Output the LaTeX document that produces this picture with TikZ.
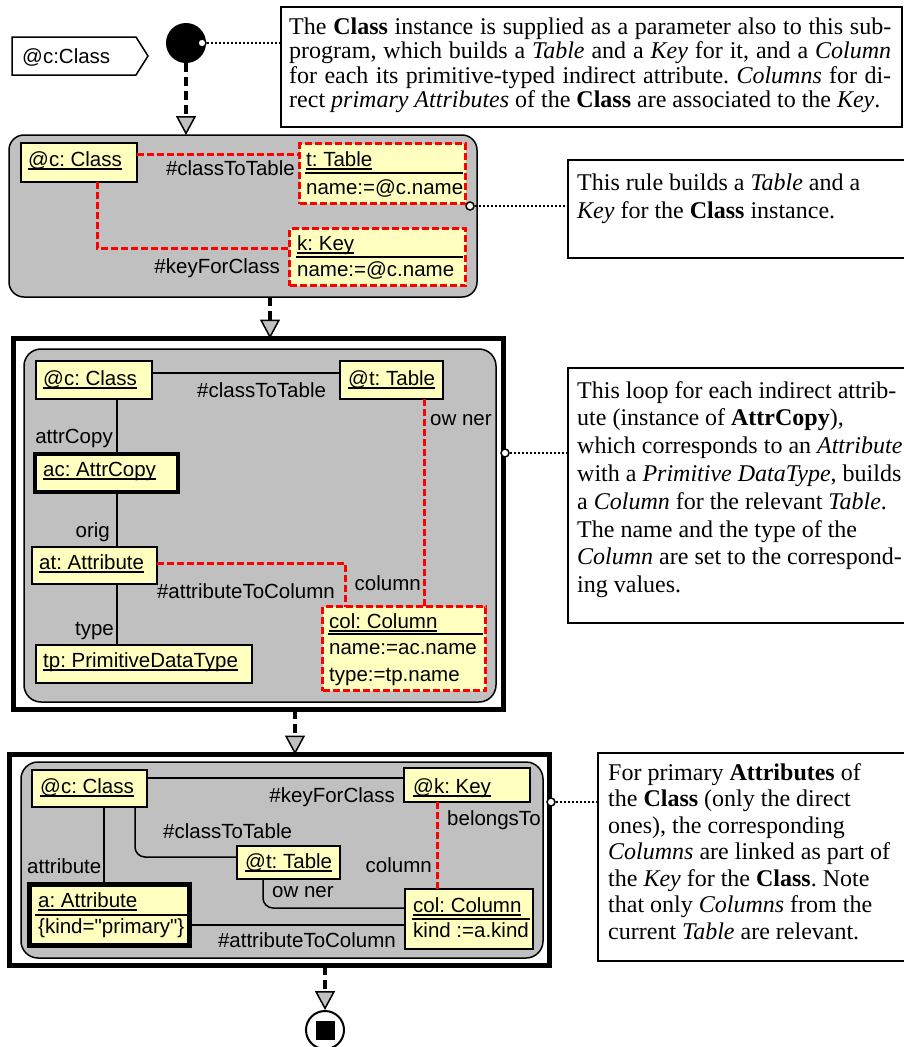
\documentclass[tikz,border=0pt]{standalone}
\usepackage{fontspec}
\setmainfont{Liberation Serif}
\setsansfont{Liberation Sans}
\usetikzlibrary{arrows.meta}
\definecolor{objfill}{RGB}{255,255,192}
\definecolor{rulefill}{RGB}{192,192,192}
\definecolor{newred}{RGB}{255,0,0}
\frenchspacing
% underlined object name
\newcommand\uln[1]{\leavevmode\setbox0=\hbox{#1}\rlap{\rule[-3.5pt]{\wd0}{1.6pt}}\box0}
% one justified line of a note
\newcommand\jline[1]{\makebox[602pt][s]{#1}}

\begin{document}
\begin{tikzpicture}[x=1pt,y=-1pt,
  lbl/.style={font=\sffamily\fontsize{20.5}{24}\selectfont, inner sep=0pt},
  lw/.style={lbl, anchor=base west},
  le/.style={lbl, anchor=base east},
  nt/.style={font=\fontsize{24}{28}\selectfont, inner sep=0pt, anchor=base west},
  obj/.style={draw, line width=1.5pt, fill=objfill, inner sep=0pt, outer sep=0pt},
  newobj/.style={draw=newred, line width=3pt, dash pattern=on 7pt off 3pt, fill=objfill, inner sep=0pt, outer sep=0pt},
  heavyobj/.style={draw, fill=objfill, inner sep=0pt, outer sep=0pt},
  rulebox/.style={draw, line width=1.5pt, fill=rulefill, rounded corners=15pt, inner sep=0pt, outer sep=0pt},
  loopframe/.style={draw, line width=4.5pt, fill=white, inner sep=0pt, outer sep=0pt},
  notebox/.style={draw, line width=1.5pt, fill=white, inner sep=0pt, outer sep=0pt},
  link/.style={line width=1.5pt},
  newlink/.style={draw=newred, line width=3pt, dash pattern=on 7pt off 3pt},
  flow/.style={line width=4pt, dash pattern=on 9pt off 5pt, -{Triangle[length=19pt,width=20pt,line width=1.5pt,fill=rulefill]}},
  anchorline/.style={line width=2pt, dash pattern=on 2pt off 2pt},
  pin/.style={circle, draw, line width=1.5pt, fill=white, minimum size=8pt, inner sep=0pt},
  sep/.style={line width=1.5pt},
]
\useasboundingbox (0,0) rectangle (904,1047);

% ---------- start: parameter and initial node ----------
\draw[line width=1.5pt] (12,37) -- (136,37) -- (148,56) -- (136,75) -- (12,75) -- cycle;
\node[lw] (param) at (22,63) {@c:Class};
\node[circle, fill=black, minimum size=40pt, inner sep=0pt] (init) at (186,43) {};

\node[notebox, minimum width=621pt, minimum height=120pt] (n1) at (591.5,67) {};
\node[nt] (n1a) at (289,34) {\jline{The \textbf{Class} instance is supplied as a parameter also to this sub-}};
\node[nt] (n1b) at (289,58.5) {\jline{program, which builds a \textit{Table} and a \textit{Key} for it, and a \textit{Column}}};
\node[nt] (n1c) at (289,83) {\jline{for each its primitive-typed indirect attribute. \textit{Columns} for di-}};
\node[nt] (n1d) at (289,107.5) {rect \textit{primary Attributes} of the \textbf{Class} are associated to the \textit{Key}.};

\node[pin] (p0) at (202,43) {};
\draw[anchorline] (p0.east) -- (n1.west |- p0.east);

% ---------- rule 1: table and key ----------
\node[rulebox, minimum width=468pt, minimum height=162pt] (r1) at (243,216) {};
\draw[flow] (init.south) -- (init.south |- r1.north);

\node[obj, minimum width=116pt, minimum height=39pt] (r1c) at (79,162.5) {};
\node[newobj, minimum width=166pt, minimum height=60pt] (r1t) at (382.5,173.5) {};
\node[newobj, minimum width=176pt, minimum height=57pt] (r1k) at (377.5,257) {};
\draw[sep] (305,173) -- (463,173);
\draw[sep] (296,257) -- (463,257);

\node[lw] at (28,166) {\uln{@c: Class}};
\node[lw] at (306,166) {\uln{t: Table}};
\node[lw] at (306,194) {name:=@c.name};
\node[lw] at (297,250) {\uln{k: Key}};
\node[lw] at (297,276) {name:=@c.name};

\draw[newlink] (r1c.east |- 0,154) -- (r1t.west |- 0,154);
\draw[newlink] (r1c.south -| 97,0) |- (r1k.west |- 0,248);
\node[le] at (295,175) {\#classToTable};
\node[le] at (280,273) {\#keyForClass};

\node[notebox, minimum width=342pt, minimum height=98pt] (n2) at (739,209) {};
\node[nt] at (577,190) {This rule builds a \textit{Table} and a};
\node[nt] at (577,218) {\textit{Key} for the \textbf{Class} instance.};
\node[pin] (p1) at (470,206) {};
\draw[anchorline] (p1.east) -- (n2.west |- p1.east);

% ---------- loop 1: columns for indirect attributes ----------
\node[loopframe, minimum width=490pt, minimum height=371pt] (l1) at (258.5,524) {};
\node[rulebox, rounded corners=17pt, minimum width=472pt, minimum height=353pt] (l1in) at (260,525.5) {};
\draw[flow] (r1.south -| 270,0) -- (l1.north -| 270,0);

\node[obj, minimum width=116pt, minimum height=38pt] (l1c) at (94,380) {};
\node[obj, minimum width=103pt, minimum height=38pt] (l1t) at (391.5,380) {};
\node[heavyobj, line width=4pt, minimum width=143pt, minimum height=38pt] (l1ac) at (106.5,473) {};
\node[obj, minimum width=125pt, minimum height=37pt] (l1at) at (94.5,565.5) {};
\node[obj, minimum width=216pt, minimum height=38pt] (l1tp) at (144,664) {};
\node[newobj, minimum width=163pt, minimum height=84pt] (l1col) at (404,648.5) {};
\draw[sep] (328,634) -- (483,634);

\node[lw] at (43,385) {\uln{@c: Class}};
\node[lw] at (348,385) {\uln{@t: Table}};
\node[lw] at (43,476) {\uln{ac: AttrCopy}};
\node[lw] at (39,569) {\uln{at: Attribute}};
\node[lw] at (43,667) {\uln{tp: PrimitiveDataType}};
\node[lw] at (329,628) {\uln{col: Column}};
\node[lw] at (329,654) {name:=ac.name};
\node[lw] at (329,681) {type:=tp.name};

\draw[link] (l1c.east |- 0,373) -- (l1t.west |- 0,373);
\draw[link] (l1c.south -| 117,0) -- (l1ac.north -| 117,0);
\draw[link] (l1ac.south -| 117,0) -- (l1at.north -| 117,0);
\draw[link] (l1at.south -| 117,0) -- (l1tp.north -| 117,0);
\draw[newlink] (l1at.east |- 0,563) -| (l1col.north -| 345,0);
\draw[newlink] (l1t.south -| 424,0) -- (l1col.north -| 424,0);

\node[lw] at (197,397) {\#classToTable};
\node[le] at (113,443) {attrCopy};
\node[le] at (110,537) {orig};
\node[le] at (114,635) {type};
\node[le] at (335,598) {\#attributeToColumn};
\node[le] at (421,590) {column};
\node[lw] at (430,425) {ow ner};

\node[notebox, minimum width=342pt, minimum height=255pt] (n3) at (739,495.5) {};
\node[nt] at (577,398) {This loop for each indirect attrib-};
\node[nt] at (577,425.8) {ute (instance of \textbf{AttrCopy}),};
\node[nt] at (577,453.6) {which corresponds to an \textit{Attribute}};
\node[nt] at (577,481.4) {with a \textit{Primitive DataType}, builds};
\node[nt] at (577,509.2) {a \textit{Column} for the relevant \textit{Table}.};
\node[nt] at (577,537) {The name and the type of the};
\node[nt] at (577,564.8) {\textit{Column} are set to the correspond-};
\node[nt] at (577,592.6) {ing values.};
\node[pin] (p2) at (505,453) {};
\draw[anchorline] (p2.east) -- (n3.west |- p2.east);

% ---------- loop 2: key columns for primary attributes ----------
\node[loopframe, minimum width=540pt, minimum height=211pt] (l2) at (279.5,860) {};
\node[rulebox, rounded corners=17pt, minimum width=522pt, minimum height=196pt] (l2in) at (282,860) {};
\draw[flow] (l1.south -| 295,0) -- (l2.north -| 295,0);

\node[obj, minimum width=115pt, minimum height=37pt] (l2c) at (89.5,788.5) {};
\node[obj, minimum width=126pt, minimum height=34pt] (l2k) at (467,785) {};
\node[obj, minimum width=103pt, minimum height=33pt] (l2t) at (288.5,862.5) {};
\node[heavyobj, line width=5pt, minimum width=160pt, minimum height=61pt] (l2a) at (109.5,915) {};
\node[obj, minimum width=128pt, minimum height=60pt] (l2col) at (469,919) {};
\draw[sep] (35,915) -- (187,915);
\draw[sep] (412,919) -- (530,919);

\node[lw] at (40,793) {\uln{@c: Class}};
\node[lw] at (413,793) {\uln{@k: Key}};
\node[lw] at (245,868) {\uln{@t: Table}};
\node[lw] at (38,907) {\uln{a: Attribute}};
\node[lw] at (38,933) {\{kind=\textquotedbl primary\textquotedbl\}};
\node[lw] at (413,912) {\uln{col: Column}};
\node[lw] at (413,937) {kind :=a.kind};

\draw[link] (l2c.east |- 0,778) -- (l2k.west |- 0,778);
\draw[link] (l2c.south -| 104,0) -- (l2a.north -| 104,0);
\draw[link, rounded corners=10pt] (l2c.south -| 135,0) |- (l2t.west |- 0,857);
\draw[link, rounded corners=10pt] (l2t.south -| 263,0) |- (l2col.west |- 0,908);
\draw[link] (l2a.east |- 0,925) -- (l2col.west |- 0,925);
\draw[newlink] (l2k.south -| 437,0) -- (l2col.north -| 437,0);

\node[le] at (395,802) {\#keyForClass};
\node[lw] at (447,825) {belongsTo};
\node[lw] at (163,838) {\#classToTable};
\node[le] at (432,872) {column};
\node[lw] at (27,873) {attribute};
\node[lw] at (272,897) {ow ner};
\node[le] at (396,947) {\#attributeToColumn};

\node[notebox, minimum width=312pt, minimum height=208pt] (n4) at (754,857) {};
\node[nt] at (608,780) {For primary \textbf{Attributes} of};
\node[nt] at (608,806.5) {the \textbf{Class} (only the direct};
\node[nt] at (608,833) {ones), the corresponding};
\node[nt] at (608,859.5) {\textit{Columns} are linked as part of};
\node[nt] at (608,886) {the \textit{Key} for the \textbf{Class}. Note};
\node[nt] at (608,912.5) {that only \textit{Columns} from the};
\node[nt] at (608,939) {current \textit{Table} are relevant.};
\node[pin] (p3) at (551,802) {};
\draw[anchorline] (p3.east) -- (n4.west |- p3.east);

% ---------- final node ----------
\node[circle, draw, line width=2pt, fill=white, minimum size=38pt, inner sep=0pt] (fin) at (325,1030) {};
\node[fill=black, minimum size=19pt, inner sep=0pt] (finsq) at (fin.center) {};
\draw[flow] (l2.south -| fin.north) -- (fin.north);
\end{tikzpicture}
\end{document}
